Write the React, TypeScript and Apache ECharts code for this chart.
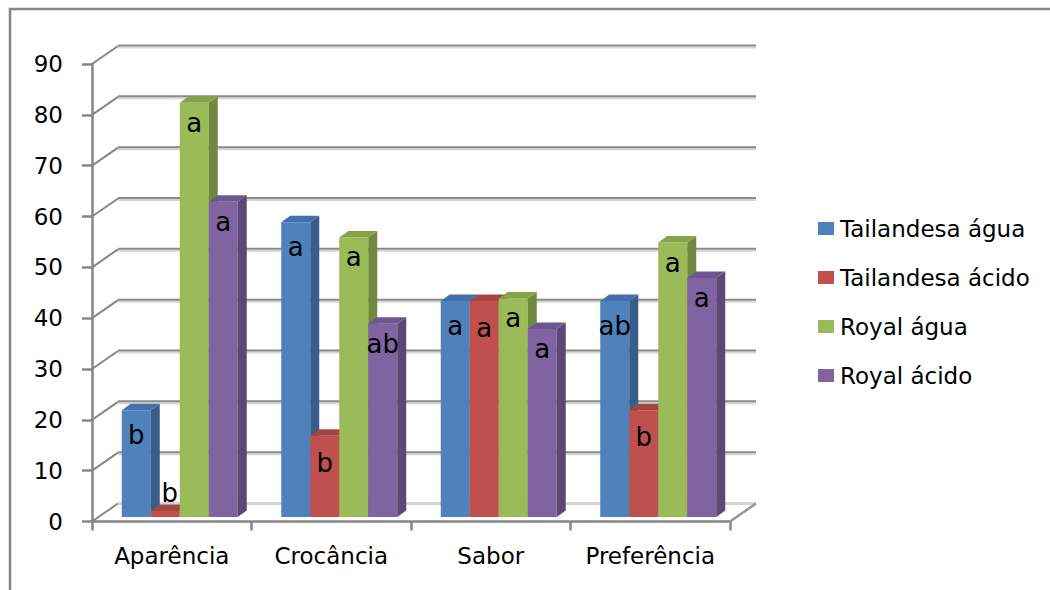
import React, { useEffect, useRef } from "react";
import * as echarts from "echarts";

const categories = ["Aparência", "Crocância", "Sabor", "Preferência"];
const seriesNames = ["Tailandesa água", "Tailandesa ácido", "Royal água", "Royal ácido"];

const tailandesaAgua = [21, 58, 42.5, 42.5];
const tailandesaAcido = [1.2, 16, 42.5, 21];
const royalAgua = [81.5, 55, 43, 54];
const royalAcido = [62, 38, 37, 47];

const lettersTailandesaAgua = ["b", "a", "a", "ab"];
const lettersTailandesaAcido = ["b", "b", "a", "b"];
const lettersRoyalAgua = ["a", "a", "a", "a"];
const lettersRoyalAcido = ["a", "ab", "a", "a"];

const yTicks = [0, 10, 20, 30, 40, 50, 60, 70, 80, 90];

const allValues = [tailandesaAgua, tailandesaAcido, royalAgua, royalAcido];
const allLetters = [lettersTailandesaAgua, lettersTailandesaAcido, lettersRoyalAgua, lettersRoyalAcido];

// styles
const FRONT = ["#4F81BD", "#C0504D", "#9BBB59", "#8064A2"];
const SIDE = ["#385D8A", "#8C3836", "#71893F", "#5C4776"];
const TOP = ["#4372AA", "#A54543", "#86A34C", "#6E5790"];
const LABEL_DY = [25, 27, 20, 20];
const FONT = '"DejaVu Sans", Verdana, sans-serif';
const AXIS_GRAY = "#868686";
const BAR_FRAC = 0.1818;
const PLANE_DX = 8; // bar front plane offset from front axis
const PLANE_DY = -4.5;
const DEPTH_DX = 9; // bar depth
const DEPTH_DY = -6.5;
const WALL_DX = 26; // back wall offset from front axis
const WALL_DY = -18;

export default function App() {
  const ref = useRef<HTMLDivElement>(null);
  useEffect(() => {
    if (!ref.current) return;
    const chart = echarts.init(ref.current, null, { renderer: "svg" });

    const wallSeries: any = {
      type: "custom",
      name: "wall",
      silent: true,
      z: 1,
      coordinateSystem: "cartesian2d",
      data: yTicks.map((t) => [0, t]),
      encode: { x: 0, y: 1 },
      renderItem: (params: any, api: any) => {
        const cs = params.coordSys;
        const v = api.value(1);
        const y = api.coord([0, v])[1];
        const xl = cs.x;
        const xr = cs.x + cs.width;
        const children: any[] = [
          {
            type: "line",
            shape: { x1: xl, y1: y, x2: xl + WALL_DX, y2: y + WALL_DY },
            style: { stroke: AXIS_GRAY, lineWidth: 2 },
          },
        ];
        if (v === 0) {
          children.push({
            type: "line",
            shape: { x1: xl + WALL_DX, y1: y + WALL_DY, x2: xr + WALL_DX, y2: y + WALL_DY },
            style: { stroke: "#D4D4D4", lineWidth: 3 },
          });
          children.push({
            type: "line",
            shape: { x1: xr, y1: y, x2: xr + WALL_DX, y2: y + WALL_DY },
            style: { stroke: "#969696", lineWidth: 2.5 },
          });
        } else {
          children.push({
            type: "line",
            shape: { x1: xl + WALL_DX, y1: y + WALL_DY + 1.5, x2: xr + WALL_DX, y2: y + WALL_DY + 1.5 },
            style: { stroke: "#D6D6D6", lineWidth: 2 },
          });
          children.push({
            type: "line",
            shape: { x1: xl + WALL_DX, y1: y + WALL_DY - 0.5, x2: xr + WALL_DX, y2: y + WALL_DY - 0.5 },
            style: { stroke: "#8A8A8A", lineWidth: 2 },
          });
        }
        return { type: "group", children };
      },
    };

    const barSeries = allValues.map((vals, si) => ({
      type: "custom",
      name: seriesNames[si],
      z: 2 + si,
      coordinateSystem: "cartesian2d",
      itemStyle: { color: FRONT[si] },
      data: vals.map((v, i) => [i, v]),
      encode: { x: 0, y: 1 },
      renderItem: (params: any, api: any) => {
        const cat = api.value(0);
        const v = api.value(1);
        const p = api.coord([cat, v]);
        const p0 = api.coord([cat, 0]);
        const catW = api.size([1, 0])[0];
        const bw = catW * BAR_FRAC;
        const cx = p[0] + PLANE_DX;
        const x0 = cx + (si - 1.5) * bw - bw / 2;
        const x1 = x0 + bw;
        const yb = p0[1] + PLANE_DY;
        const yt = p[1] + PLANE_DY;
        const letter = allLetters[si][params.dataIndex];
        const short = yb - yt < 25;
        const lx = short ? (x0 + x1) / 2 + DEPTH_DX / 2 : (x0 + x1) / 2;
        const ly = short ? yt - 18 : yt + LABEL_DY[si];
        return {
          type: "group",
          children: [
            {
              type: "rect",
              shape: { x: x0, y: yt, width: bw, height: yb - yt },
              style: { fill: FRONT[si] },
            },
            {
              type: "polygon",
              shape: {
                points: [
                  [x1, yt],
                  [x1 + DEPTH_DX, yt + DEPTH_DY],
                  [x1 + DEPTH_DX, yb + DEPTH_DY],
                  [x1, yb],
                ],
              },
              style: { fill: SIDE[si] },
            },
            {
              type: "polygon",
              shape: {
                points: [
                  [x0, yt],
                  [x1, yt],
                  [x1 + DEPTH_DX, yt + DEPTH_DY],
                  [x0 + DEPTH_DX, yt + DEPTH_DY],
                ],
              },
              style: { fill: TOP[si] },
            },
            {
              type: "text",
              style: {
                text: letter,
                x: lx,
                y: ly,
                align: "center",
                verticalAlign: "middle",
                fill: "#000",
                fontSize: 26,
                fontFamily: FONT,
              },
            },
          ],
        };
      },
    }));

    chart.setOption({
      animation: false,
      backgroundColor: "#fff",
      color: FRONT,
      grid: {
        left: 92,
        top: 64,
        width: 638,
        height: 457.5,
        containLabel: false,
        outerBoundsMode: "none",
      },
      legend: {
        data: seriesNames,
        orient: "vertical",
        left: 813,
        top: 212,
        itemWidth: 16,
        itemHeight: 13,
        itemGap: 26,
        icon: "rect",
        textStyle: { fontSize: 23, color: "#000", fontFamily: FONT, padding: [0, 0, 0, 1] },
      },
      xAxis: {
        type: "category",
        data: categories,
        axisLine: { show: true, lineStyle: { color: AXIS_GRAY, width: 2.5 } },
        axisTick: { show: true, interval: 0, length: 9, lineStyle: { color: AXIS_GRAY, width: 2.5 } },
        axisLabel: { interval: 0, fontSize: 23, color: "#000", fontFamily: FONT, margin: 23 },
        splitLine: { show: false },
      },
      yAxis: {
        type: "value",
        min: 0,
        max: 90,
        interval: 10,
        axisLine: { show: true, lineStyle: { color: AXIS_GRAY, width: 2.5 } },
        axisTick: { show: true, length: 10, lineStyle: { color: AXIS_GRAY, width: 2.5 } },
        axisLabel: { fontSize: 23, color: "#000", fontFamily: FONT, margin: 29 },
        splitLine: { show: false },
      },
      graphic: [
        {
          type: "rect",
          silent: true,
          z: -1,
          shape: { x: 10, y: 9, width: 1100, height: 700 },
          style: { fill: "none", stroke: AXIS_GRAY, lineWidth: 2.5 },
        },
      ],
      series: [wallSeries, ...barSeries],
    });

    return () => chart.dispose();
  }, []);

  return (
    <div
      ref={ref}
      style={{ position: "fixed", left: 0, top: 0, width: 1050, height: 590 }}
    />
  );
}
